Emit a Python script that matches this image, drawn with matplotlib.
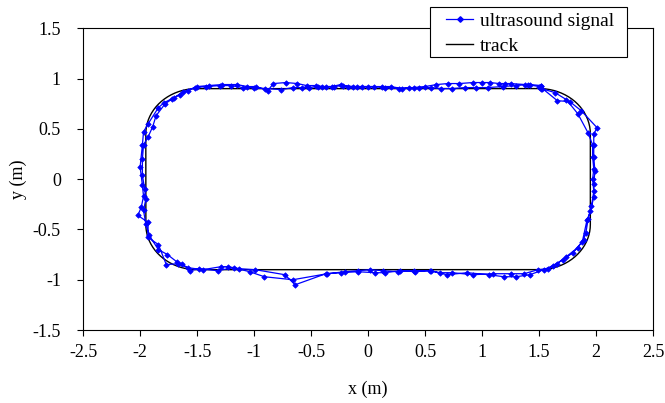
import numpy as np
import matplotlib
matplotlib.use("Agg")
import matplotlib.pyplot as plt
from matplotlib.lines import Line2D
from matplotlib.patches import Rectangle

# ---------------- data ----------------
# ultrasound signal, lap 1 (x, y in m)
lap1_x = [1.52, 1.42, 1.38, 1.25, 1.20, 1.15, 1.07, 1.00, 0.92, 0.80, 0.70, 0.60, 0.50, 0.40, 0.30,
          0.20, 0.12, 0.00, -0.10, -0.18, -0.24, -0.32, -0.40, -0.46, -0.54, -0.62, -0.72, -0.83,
          -0.88, -0.98, -1.06, -1.15, -1.28, -1.40, -1.50,
          -1.58, -1.65, -1.72, -1.79, -1.84, -1.93, -1.97,
          -1.98, -2.00, -1.98, -1.97, -1.99, -2.02, -1.93, -1.93,
          -1.84, -1.77, -1.67, -1.58,
          -1.45, -1.29, -1.23, -1.13, -0.99, -0.73, -0.64, -0.37, -0.24, -0.09, 0.06, 0.15, 0.28,
          0.41, 0.54, 0.69, 0.87, 1.06, 1.19, 1.30, 1.42, 1.54, 1.62, 1.71,
          1.80, 1.88, 1.92, 1.95,
          1.98, 1.98, 1.99, 1.98, 1.98, 1.98, 2.01,
          1.87, 1.77, 1.66, 1.53]
lap1_y = [0.93, 0.94, 0.94, 0.95, 0.95, 0.95, 0.96, 0.96, 0.96, 0.95, 0.95, 0.94, 0.92, 0.91, 0.90,
          0.92, 0.92, 0.92, 0.92, 0.92, 0.94, 0.92, 0.92, 0.93, 0.93, 0.95, 0.96, 0.95,
          0.88, 0.92, 0.92, 0.94, 0.94, 0.93, 0.92,
          0.88, 0.84, 0.80, 0.76, 0.71, 0.55, 0.47,
          0.34, 0.12, -0.06, -0.17, -0.28, -0.36, -0.43, -0.58,
          -0.65, -0.85, -0.84, -0.88,
          -0.90, -0.87, -0.87, -0.89, -0.90, -0.95, -1.05, -0.94, -0.93, -0.92, -0.93, -0.93, -0.91,
          -0.92, -0.91, -0.95, -0.93, -0.95, -0.97, -0.97, -0.95, -0.90, -0.86, -0.80,
          -0.73, -0.62, -0.41, -0.32,
          -0.18, -0.05, 0.08, 0.22, 0.34, 0.45, 0.51,
          0.68, 0.77, 0.78, 0.90]

# ultrasound signal, lap 2
lap2_x = [1.50, 1.40, 1.30, 1.18, 1.05, 0.95, 0.85, 0.74, 0.64, 0.55, 0.45, 0.36, 0.27, 0.15, 0.05,
          -0.05, -0.13, -0.22, -0.30, -0.37, -0.44, -0.52, -0.58, -0.66, -0.76, -0.90, -1.00,
          -1.10, -1.20, -1.30, -1.42, -1.52,
          -1.62, -1.70, -1.78, -1.86, -1.89, -1.93,
          -1.97, -1.98, -1.98, -1.96, -1.95, -1.97, -1.95, -1.92,
          -1.84, -1.76, -1.68, -1.63, -1.56,
          -1.48, -1.32, -1.18, -1.04, -0.91, -0.66, -0.36, -0.20, -0.09, 0.02, 0.13, 0.26, 0.40,
          0.55, 0.63, 0.74, 0.92, 1.10, 1.25, 1.37, 1.49, 1.58, 1.66, 1.74,
          1.84, 1.89, 1.91,
          1.93, 1.96, 1.98, 1.97, 1.98, 1.97, 1.97, 1.93,
          1.84, 1.74, 1.64, 1.52]
lap2_y = [0.92, 0.94, 0.93, 0.92, 0.91, 0.91, 0.91, 0.90, 0.90, 0.91, 0.91, 0.91, 0.90, 0.91, 0.92,
          0.92, 0.92, 0.93, 0.92, 0.92, 0.92, 0.91, 0.91, 0.91, 0.89, 0.90, 0.91,
          0.91, 0.93, 0.93, 0.92, 0.91,
          0.87, 0.81, 0.75, 0.63, 0.52, 0.42,
          0.34, 0.20, 0.04, -0.10, -0.20, -0.31, -0.45, -0.56,
          -0.70, -0.75, -0.82, -0.84, -0.91,
          -0.89, -0.91, -0.88, -0.92, -0.97, -1.00, -0.94, -0.92, -0.91, -0.90, -0.91, -0.92, -0.91,
          -0.91, -0.93, -0.93, -0.95, -0.94, -0.94, -0.94, -0.90, -0.89, -0.84, -0.77,
          -0.68, -0.60, -0.54,
          -0.40, -0.27, -0.12, 0.00, 0.10, 0.22, 0.34, 0.46,
          0.65, 0.79, 0.86, 0.90]

signal_x = lap1_x + lap2_x + [lap1_x[0]]
signal_y = lap1_y + lap2_y + [lap1_y[0]]

# track: rounded rectangle (straight half-length, half-width of straight sides, corner radius)
track_half_straight = 1.5
track_half_side = 0.45
track_radius = 0.45

x_ticks = [-2.5, -2, -1.5, -1, -0.5, 0, 0.5, 1, 1.5, 2, 2.5]
y_ticks = [-1.5, -1, -0.5, 0, 0.5, 1, 1.5]
x_tick_labels = ["-2.5", "-2", "-1.5", "-1", "-0.5", "0", "0.5", "1", "1.5", "2", "2.5"]
y_tick_labels = ["-1.5", "-1", "-0.5", "0", "0.5", "1", "1.5"]

# ---------------- track geometry ----------------
def rounded_track(a, b, r, n=60):
    xs, ys = [], []
    centers = [(a, b, 0), (-a, b, 90), (-a, -b, 180), (a, -b, 270)]
    for cx, cy, start in centers:
        t = np.radians(np.linspace(start, start + 90, n))
        xs.extend(cx + r * np.cos(t))
        ys.extend(cy + r * np.sin(t))
    xs.append(xs[0]); ys.append(ys[0])
    return np.array(xs), np.array(ys)

tx, ty = rounded_track(track_half_straight, track_half_side, track_radius)

# ---------------- plotting ----------------
plt.rcParams['font.family'] = ['Liberation Serif', 'DejaVu Serif']
fig = plt.figure(figsize=(6.65, 4.03), dpi=100)
ax = fig.add_axes([0.125, 0.181, 0.857, 0.749])

ax.plot(tx, ty, color='black', lw=1.0, zorder=2)
ax.plot(signal_x, signal_y, color='#0000FF', lw=0.9, marker='D', markersize=2.8,
        markeredgewidth=0.5, zorder=3)

ax.set_xlim(-2.5, 2.5)
ax.set_ylim(-1.5, 1.5)
ax.set_xticks(x_ticks)
ax.set_xticklabels(x_tick_labels)
ax.set_yticks(y_ticks)
ax.set_yticklabels(y_tick_labels)
ax.tick_params(direction='out', length=4, width=0.8, labelsize=13, colors='black')
ax.tick_params(axis='y', pad=12)
ax.tick_params(axis='x', pad=6)
ax.set_xlabel('x (m)', fontsize=13, labelpad=14)
ax.set_ylabel('y (m)', fontsize=13, labelpad=4)
for s in ax.spines.values():
    s.set_linewidth(0.8)
    s.set_color('black')

# legend frame (drawn as its own box) and legend entries
fig.patches.append(Rectangle((0.6466, 0.8586), 0.2962, 0.1241, transform=fig.transFigure,
                             facecolor='white', edgecolor='black', lw=0.8, zorder=5))
handles = [Line2D([], [], color='#0000FF', lw=0.9, marker='D', markersize=2.8),
           Line2D([], [], color='black', lw=1.0)]
leg = fig.legend(handles, ['ultrasound signal', 'track'], loc='upper left',
                 bbox_to_anchor=(0.6707, 0.970), bbox_transform=fig.transFigure,
                 frameon=False, fontsize=14,
                 handlelength=1.4, handletextpad=0.36, borderpad=0, labelspacing=0.38,
                 borderaxespad=0, numpoints=1)
leg.set_zorder(6)

fig.savefig('out.png', dpi=100)
